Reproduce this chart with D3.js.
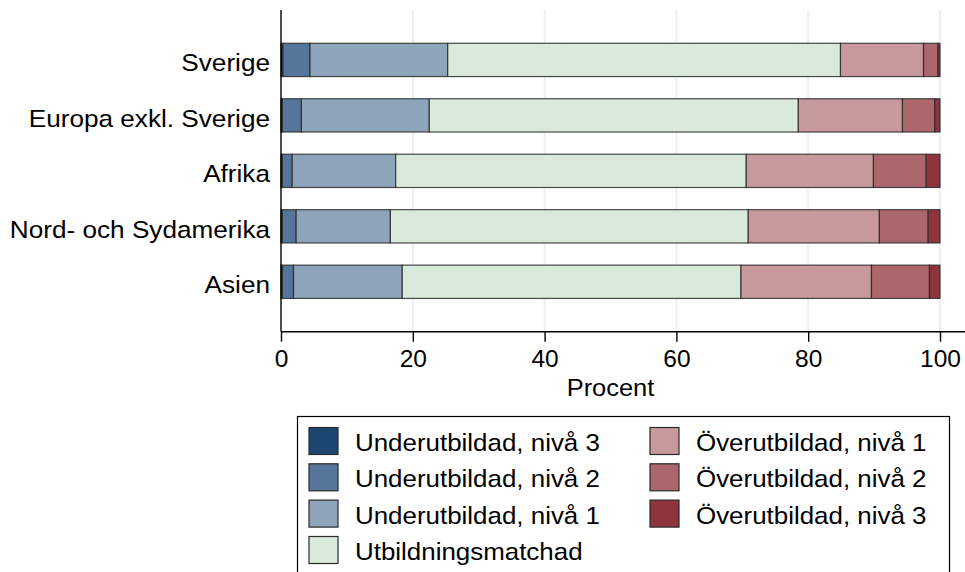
<!DOCTYPE html>
<html><head><meta charset="utf-8">
<script src="https://cdn.jsdelivr.net/npm/d3@7"></script>
<style>body{margin:0;background:#fff}svg{display:block;font-family:"Liberation Sans",Arial,Helvetica,sans-serif}</style>
</head><body>
<svg id="c" width="965" height="572"></svg>
<script>
const categories = ["Sverige","Europa exkl. Sverige","Afrika","Nord- och Sydamerika","Asien"];
const seriesNames = ["Underutbildad, nivå 3","Underutbildad, nivå 2","Underutbildad, nivå 1","Utbildningsmatchad","Överutbildad, nivå 1","Överutbildad, nivå 2","Överutbildad, nivå 3"];
const under3 = [0.3, 0.2, 0.2, 0.2, 0.2];
const under2 = [4.1, 2.9, 1.5, 2.1, 1.7];
const under1 = [20.9, 19.4, 15.7, 14.3, 16.5];
const matched = [59.6, 56.0, 53.2, 54.3, 51.4];
const over1 = [12.6, 15.8, 19.3, 19.9, 19.8];
const over2 = [2.2, 4.9, 8.0, 7.4, 8.8];
const over3 = [0.3, 0.8, 2.1, 1.8, 1.6];
const xTicks = [0, 20, 40, 60, 80, 100];
const colors = ["#1b4670","#55759a","#8da4bb","#d9eada","#c7999d","#ab676c","#8f343c"];

const seriesVals = [under3, under2, under1, matched, over1, over2, over3];
const rows = categories.map((c, i) => {
  const o = {cat: c};
  seriesNames.forEach((s, j) => o[s] = seriesVals[j][i]);
  return o;
});
const stack = d3.stack().keys(seriesNames)(rows);

const FS = 24, SX = 1.09;
const svg = d3.select("#c");
const x = d3.scaleLinear().domain([0, 100]).range([281, 940]);
const y = d3.scaleBand().domain(categories).range([10, 331.7]).paddingInner(0.4).paddingOuter(0.6);

// grid
svg.append("g").selectAll("line").data(xTicks.filter(d => d > 0)).join("line")
  .attr("x1", d => x(d)).attr("x2", d => x(d)).attr("y1", 10).attr("y2", 331.7)
  .attr("stroke", "#eaf0f4").attr("stroke-width", 2);

// bars
svg.append("g").selectAll("g").data(stack).join("g")
  .attr("fill", (d, i) => colors[i])
  .selectAll("rect").data(d => d).join("rect")
  .attr("x", d => x(d[0])).attr("width", d => x(d[1]) - x(d[0]))
  .attr("y", d => y(d.data.cat)).attr("height", y.bandwidth())
  .attr("stroke", "#2a2a2a").attr("stroke-opacity", 0.85).attr("stroke-width", 1.2);

// x axis
const xAxis = svg.append("g").attr("transform", "translate(0,331.7)")
  .call(d3.axisBottom(x).tickValues(xTicks).tickSize(10).tickPadding(8).tickFormat(d3.format("d")));
xAxis.select(".domain").remove();
xAxis.append("line").attr("x1", 281).attr("x2", 965).attr("stroke", "#000").attr("stroke-width", 1.4);
xAxis.selectAll(".tick line").attr("stroke", "#000").attr("stroke-width", 1.4);
xAxis.selectAll(".tick text").attr("font-size", 24.5).attr("fill", "#000")
  .attr("font-family", "Liberation Sans, Arial, sans-serif").attr("dy", "0.71em");

svg.append("text").attr("transform", `translate(${x(50)},396) scale(1.06,1)`).attr("text-anchor", "middle")
  .attr("font-size", FS).attr("fill", "#000").text("Procent");

// y axis
const yAxis = svg.append("g").attr("transform", "translate(281,0)")
  .call(d3.axisLeft(y).tickSize(0).tickPadding(11));
yAxis.select(".domain").remove();
yAxis.append("line").attr("y1", 10).attr("y2", 331.7).attr("stroke", "#000").attr("stroke-width", 1.4);
yAxis.selectAll(".tick text").attr("font-size", FS).attr("fill", "#000")
  .attr("font-family", "Liberation Sans, Arial, sans-serif")
  .attr("dy", null).attr("x", null).attr("y", null)
  .attr("transform", `translate(-11,11.5) scale(${SX},1)`);

// legend
const lg = svg.append("g");
lg.append("rect").attr("x", 297.5).attr("y", 416.5).attr("width", 652).attr("height", 170)
  .attr("fill", "#fff").attr("stroke", "#000").attr("stroke-width", 1.2);
const colX = [309, 650];
const rowY = [427.5, 463.8, 500.1, 536.5];
seriesNames.forEach((s, i) => {
  const col = i < 4 ? 0 : 1;
  const row = i < 4 ? i : i - 4;
  const g = lg.append("g").attr("transform", `translate(${colX[col]},${rowY[row]})`);
  g.append("rect").attr("width", 29).attr("height", 27).attr("fill", colors[i])
    .attr("stroke", "#2a2a2a").attr("stroke-width", 1.2);
  g.append("text").attr("transform", `translate(46,23.5) scale(1.08,1)`)
    .attr("font-size", FS).attr("fill", "#000").text(s);
});
</script>
</body></html>
